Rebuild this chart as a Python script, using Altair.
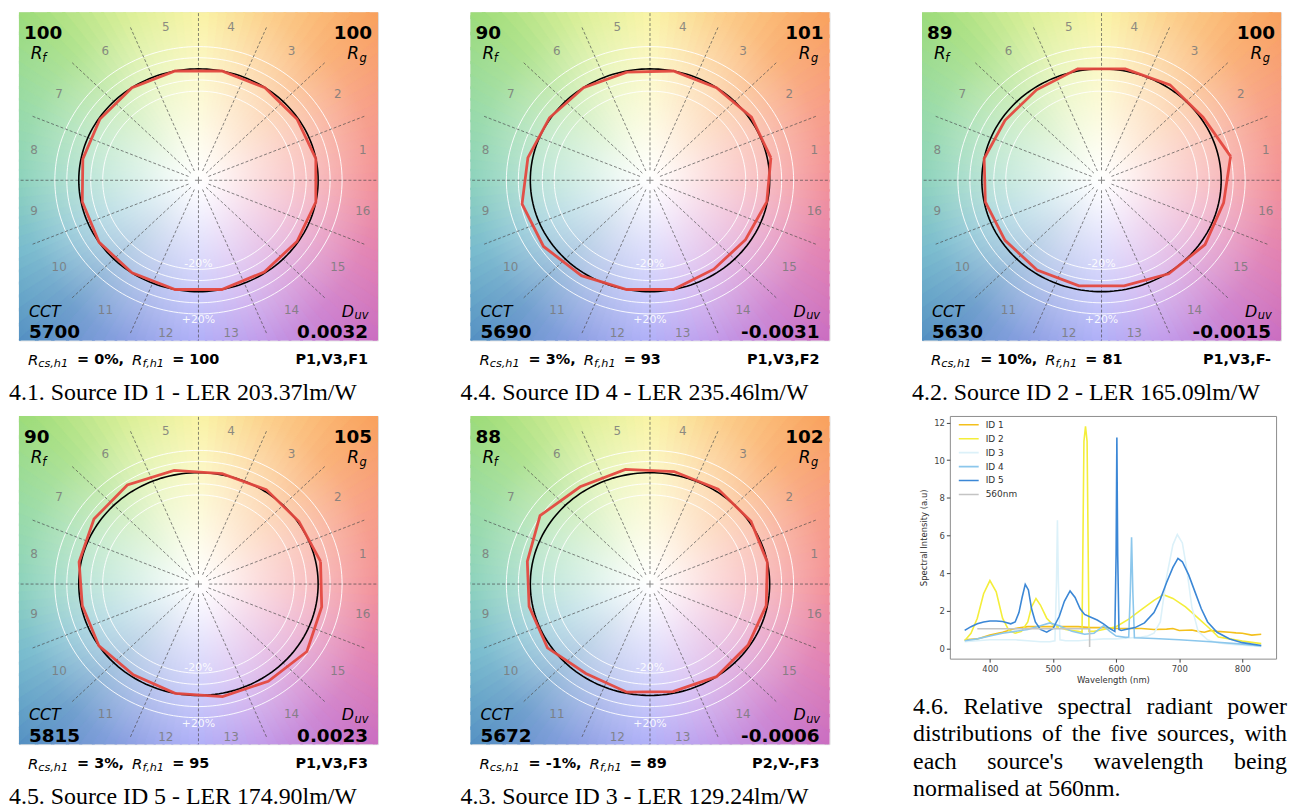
import altair as alt
import numpy as np
import pandas as pd

# ------------------------------------------------------------------ data
HUE_BINS = [str(i) for i in range(1, 17)]

PANEL_CODE = ["4.1", "4.4", "4.2", "4.5", "4.3"]
SOURCE_ID = [1, 4, 2, 5, 3]
LER = ["203.37", "235.46", "165.09", "174.90", "129.24"]
RF = [100, 90, 89, 90, 88]
RG = [100, 101, 100, 105, 102]
CCT = [5700, 5690, 5630, 5815, 5672]
DUV = ["0.0032", "-0.0031", "-0.0015", "0.0023", "-0.0006"]
RCS_H1 = ["0%", "3%", "10%", "3%", "-1%"]
RF_H1 = [100, 93, 81, 95, 89]
PVF = ["P1,V3,F1", "P1,V3,F2", "P1,V3,F-", "P1,V3,F3", "P2,V-,F3"]

# relative chroma of the test source in each hue bin (reference circle = 1)
RADII_ID1 = [1.00, 0.99, 1.00, 1.00, 1.00, 1.00, 0.99, 0.985, 0.99, 1.00, 1.00, 1.00, 1.00, 0.99, 0.99, 1.00]
RADII_ID4 = [1.03, 1.02, 1.00, 1.00, 0.99, 1.00, 1.01, 1.04, 1.09, 1.07, 1.03, 1.00, 1.00, 0.96, 0.96, 0.995]
RADII_ID2 = [1.10, 1.02, 1.03, 1.02, 1.02, 0.977, 0.97, 1.00, 0.99, 0.97, 0.97, 0.966, 0.967, 1.01, 1.04, 1.04]
RADII_ID5 = [1.04, 1.01, 1.02, 1.01, 1.04, 1.07, 1.05, 1.017, 0.99, 1.00, 0.98, 1.00, 1.03, 1.05, 1.09, 1.05]
RADII_ID3 = [1.00, 1.015, 1.025, 1.03, 1.05, 1.05, 1.105, 1.045, 1.03, 1.03, 0.965, 0.99, 0.985, 1.00, 0.986, 0.99]
RADII = [RADII_ID1, RADII_ID4, RADII_ID2, RADII_ID5, RADII_ID3]

RING_RADII = [0.8, 0.9, 1.1, 1.2]

# spectral power distributions (normalised at 560 nm)
WL_ID1 = [360, 380, 400, 420, 440, 460, 480, 500, 520, 540, 560, 580, 600, 620, 640, 660, 680, 690, 700,
          720, 730, 740, 750, 760, 780, 790, 800, 815, 830]
SPD_ID1 = [0.45, 0.5, 0.7, 0.85, 1.05, 1.15, 1.15, 1.15, 1.15, 1.15, 1.1, 1.1, 1.05, 1.05, 1.05, 1.0, 1.02,
           1.05, 0.95, 0.97, 0.9, 0.85, 0.95, 0.9, 0.85, 0.82, 0.8, 0.7, 0.75]
WL_ID2 = [360, 370, 380, 390, 400, 410, 420, 430, 440, 450, 460, 466, 473, 480, 490, 500, 510, 520, 530, 540,
          546, 549, 551.5, 554, 557, 565, 580, 600, 620, 640, 660, 675, 690, 710, 730, 750, 762, 780, 800, 830]
SPD_ID2 = [0.4, 0.8, 1.6, 2.9, 3.6, 3.0, 1.6, 0.95, 0.8, 0.9, 1.4, 2.2, 2.65, 2.3, 1.6, 1.25, 1.1, 1.0, 0.95,
           0.9, 0.85, 11.0, 11.8, 11.0, 0.9, 0.9, 1.0, 1.15, 1.55, 2.05, 2.55, 2.85, 2.65, 2.2, 1.6, 1.0, 0.6,
           0.5, 0.38, 0.25]
WL_ID3 = [360, 380, 400, 420, 440, 460, 480, 495, 503, 505.5, 507, 508.5, 511, 520, 540, 560, 580, 600, 620,
          640, 650, 660, 670, 680, 690, 697, 705, 712, 720, 730, 745, 760, 780, 800, 830]
SPD_ID3 = [0.35, 0.4, 0.45, 0.45, 0.45, 0.4, 0.35, 0.35, 0.4, 3.5, 6.8, 3.5, 0.45, 0.4, 0.4, 0.45, 0.5, 0.5,
           0.55, 0.6, 0.65, 0.8, 1.4, 3.8, 5.5, 6.05, 5.6, 4.2, 2.2, 0.9, 0.45, 0.3, 0.22, 0.16, 0.1]
WL_ID4 = [360, 380, 400, 420, 440, 460, 480, 495, 510, 530, 550, 565, 580, 590, 600, 615, 620, 622.5, 624.5,
          626.5, 629, 640, 660, 700, 750, 800, 830]
SPD_ID4 = [0.4, 0.5, 0.65, 0.8, 0.9, 1.0, 1.2, 1.35, 1.2, 0.9, 0.75, 0.8, 1.2, 0.9, 0.65, 0.58, 0.6, 3.0, 5.9,
           3.0, 0.56, 0.55, 0.52, 0.45, 0.35, 0.22, 0.12]
WL_ID5 = [360, 370, 380, 390, 400, 410, 420, 433, 440, 446, 451, 456, 461, 466, 472, 480, 490, 500, 510, 518,
          527, 535, 543, 550, 560, 570, 580, 590, 598, 600, 601.2, 602.5, 604.5, 608, 615, 630, 645, 660, 670,
          680, 690, 698, 705, 715, 725, 735, 745, 760, 780, 800, 830]
SPD_ID5 = [0.95, 1.15, 1.3, 1.4, 1.45, 1.45, 1.42, 1.3, 1.4, 1.9, 2.7, 3.4, 3.1, 2.1, 1.4, 1.0, 0.86, 1.05,
           1.7, 2.5, 3.05, 2.7, 2.1, 1.8, 1.65, 1.5, 1.3, 1.05, 0.9, 5.0, 11.2, 5.0, 1.0, 0.95, 1.0, 1.1, 1.35,
           1.9, 2.6, 3.5, 4.3, 4.78, 4.6, 3.9, 3.0, 2.1, 1.4, 0.85, 0.5, 0.3, 0.15]
WL_560 = [380, 558, 558]
SPD_560 = [1.04, 1.04, 0.07]

SERIES = ["ID 1", "ID 2", "ID 3", "ID 4", "ID 5", "560nm"]
SERIES_COLORS = ["#f3c01c", "#f4ee3a", "#dcf1f9", "#8cc7ec", "#3b87d6", "#c4c4c4"]
SERIES_WIDTH = [1.6, 1.6, 1.6, 1.6, 1.9, 1.0]

CAPTION_46 = [["4.6.", "Relative", "spectral", "radiant", "power"],
              ["distributions", "of", "the", "five", "sources,", "with"],
              ["each", "source's", "wavelength", "being"],
              ["normalised at 560nm."]]

# background hue wheel (style)
BG_DEG = [0, 22.5, 45, 67.5, 90, 112.5, 135, 157.5, 180, 202.5, 225, 247.5, 270, 292.5, 315, 337.5]
BG_HEX = ["#f07880", "#f58a70", "#f9a058", "#fbc470", "#f8f088", "#d4ec80", "#9cdc74", "#86d496",
          "#72c8ac", "#5eaec4", "#4c88c0", "#6e86dc", "#9090f6", "#b07ee4", "#c468c4", "#dc6aa4"]

# ------------------------------------------------------------------ helpers
W, H = 361, 330
XS = alt.Scale(domain=[-1.5, 1.5], nice=False, zero=False)
YS = alt.Scale(domain=[-1.4375, 1.509], nice=False, zero=False)
ONE = pd.DataFrame({"k": [0]})
SANS = "DejaVu Sans"
SERIF = "Liberation Serif"


def hex2rgb(h):
    h = h.lstrip("#")
    return [int(h[i:i + 2], 16) for i in (0, 2, 4)]


def interp_color(h):
    h = h % 360
    degs = BG_DEG + [360]
    cols = BG_HEX + [BG_HEX[0]]
    for j in range(len(degs) - 1):
        if degs[j] <= h <= degs[j + 1]:
            t = (h - degs[j]) / (degs[j + 1] - degs[j])
            c0, c1 = hex2rgb(cols[j]), hex2rgb(cols[j + 1])
            c = [int(round(a + (b - a) * t)) for a, b in zip(c0, c1)]
            return "#%02x%02x%02x" % tuple(c)
    return cols[0]


def wedge_frame():
    rows = []
    step = 3
    for i in range(0, 360, step):
        h1 = i + step
        t0 = ((90 - h1) % 360)
        rows.append(dict(cx=0, cy=0, t0=np.deg2rad(t0), t1=np.deg2rad(t0 + step + 0.5),
                         col=interp_color(i + step / 2)))
    return pd.DataFrame(rows)


def circle_frame(radii):
    rows = []
    for r in radii:
        for j, a in enumerate(range(0, 361, 2)):
            rows.append(dict(ring=r, o=j, x=r * np.cos(np.deg2rad(a)), y=r * np.sin(np.deg2rad(a))))
    return pd.DataFrame(rows)


def spoke_frame():
    rows = []
    for k in range(16):
        a = np.deg2rad(k * 22.5)
        r1 = 1.7 if k % 4 == 0 else 1.5
        for o, r in enumerate([0.09, r1]):
            rows.append(dict(s=k, o=o, x=r * np.cos(a), y=r * np.sin(a)))
    return pd.DataFrame(rows)


def polygon_frame(radii):
    rows = []
    for i in range(17):
        r = radii[i % 16]
        a = np.deg2rad(11.25 + 22.5 * (i % 16))
        rows.append(dict(o=i, x=r * np.cos(a), y=r * np.sin(a)))
    return pd.DataFrame(rows)


def bin_label_frame():
    rows = []
    for i, b in enumerate(HUE_BINS):
        a = np.deg2rad(11.25 + 22.5 * i)
        rows.append(dict(lab=b, x=1.4 * np.cos(a), y=1.4 * np.sin(a)))
    return pd.DataFrame(rows)


def txt(text, x, y, size, weight="normal", style="normal", align="left", color="black", font=SANS,
        opacity=1.0):
    return alt.Chart(ONE).mark_text(text=text, fontSize=size, fontWeight=weight, fontStyle=style,
                                    align=align, baseline="middle", font=font, color=color,
                                    opacity=opacity).encode(x=alt.value(x), y=alt.value(y))


BOLD_W = {"%": 1.002, ",": 0.380, " ": 0.348, "=": 0.838, "-": 0.415}
OBL_W = {"R": 0.695, "c": 0.550, "s": 0.521, ",": 0.318, "h": 0.634, "1": 0.636, "f": 0.352}
TIMES_W = {" ": .25, ".": .25, ",": .25, "'": .18, "a": .444, "b": .5, "c": .444, "d": .5, "e": .444,
           "f": .333, "g": .5, "h": .5, "i": .278, "l": .278, "m": .778, "n": .5, "o": .5, "p": .5,
           "r": .333, "s": .389, "t": .278, "u": .5, "v": .5, "w": .722, "R": .667}


def tw(s, table, size):
    return sum(table.get(ch, 0.5 if table is TIMES_W else 0.696) for ch in s) * size


WEDGES = wedge_frame()
RINGS = circle_frame(RING_RADII)
REFC = circle_frame([1.0])
SPOKES = spoke_frame()
BINLAB = bin_label_frame()
PCT = pd.DataFrame({"x": [0, 0], "y": [-0.756, -1.255], "lab": ["-20%", "+20%"]})

GLOW = {
    "gradient": "radial", "x1": 0.5, "y1": 0.512, "r1": 0, "x2": 0.5, "y2": 0.512, "r2": 0.75,
    "stops": [
        {"offset": 0.0, "color": "rgba(255,255,255,1)"},
        {"offset": 0.06, "color": "rgba(255,255,255,0.95)"},
        {"offset": 0.22, "color": "rgba(255,255,255,0.75)"},
        {"offset": 0.44, "color": "rgba(255,255,255,0.5)"},
        {"offset": 0.66, "color": "rgba(255,255,255,0.2)"},
        {"offset": 0.94, "color": "rgba(255,255,255,0.0)"},
        {"offset": 1.0, "color": "rgba(255,255,255,0.0)"},
    ],
}


def tm30_panel(i):
    X = lambda f: alt.X(f, scale=XS, axis=None)
    Y = lambda f: alt.Y(f, scale=YS, axis=None)
    layers = []
    layers.append(alt.Chart(WEDGES).mark_arc(radius=265, clip=True, strokeWidth=0.8).encode(
        x=X("cx:Q"), y=Y("cy:Q"), theta=alt.Theta("t0:Q", scale=None), theta2="t1:Q",
        fill=alt.Fill("col:N", scale=None), stroke=alt.Stroke("col:N", scale=None)))
    layers.append(alt.Chart(ONE).mark_rect(fill=GLOW).encode(
        x=alt.value(0), x2=alt.value(W), y=alt.value(0), y2=alt.value(H)))
    layers.append(alt.Chart(RINGS).mark_line(color="white", strokeWidth=1.0, opacity=0.9).encode(
        x=X("x:Q"), y=Y("y:Q"), detail="ring:N", order="o:Q"))
    layers.append(alt.Chart(SPOKES).mark_line(color="#4a4a4a", strokeWidth=0.9, opacity=0.75,
                                              strokeDash=[3, 2], clip=True).encode(
        x=X("x:Q"), y=Y("y:Q"), detail="s:N", order="o:Q"))
    layers.append(alt.Chart(REFC).mark_line(color="black", strokeWidth=1.6).encode(
        x=X("x:Q"), y=Y("y:Q"), order="o:Q"))
    layers.append(alt.Chart(polygon_frame(RADII[i])).mark_line(color="#e4483f", strokeWidth=2.8,
                                                               opacity=0.95).encode(
        x=X("x:Q"), y=Y("y:Q"), order="o:Q"))
    layers.append(alt.Chart(BINLAB).mark_text(fontSize=12, color="#7a7a7a", opacity=0.85, font=SANS).encode(
        x=X("x:Q"), y=Y("y:Q"), text="lab:N"))
    layers.append(alt.Chart(PCT).mark_text(fontSize=11, color="white", opacity=0.9, font=SANS).encode(
        x=X("x:Q"), y=Y("y:Q"), text="lab:N"))
    layers.append(alt.Chart(ONE).mark_point(shape="M-1,0L1,0M0,-1L0,1", size=50, filled=False,
                                            color="#555555", strokeWidth=1).encode(
        x=alt.X("k:Q", scale=XS, axis=None), y=alt.Y("k:Q", scale=YS, axis=None)))
    # corner annotations
    layers += [
        txt(str(RF[i]), 5, 21, 18.5, weight="bold"),
        txt("R", 12, 42, 17, style="italic"),
        txt("f", 23.5, 47, 11.5, style="italic"),
        txt(str(RG[i]), 355, 21, 18.5, weight="bold", align="right"),
        txt("R", 342, 42, 17, style="italic", align="right"),
        txt("g", 342.5, 47, 11.5, style="italic"),
        txt("CCT", 10, 301, 16, style="italic"),
        txt(str(CCT[i]), 10, 322, 18.5, weight="bold"),
        txt("D", 337, 301, 16, style="italic", align="right"),
        txt("uv", 337.5, 306, 11.5, style="italic"),
        txt(DUV[i], 351, 322, 18.5, weight="bold", align="right"),
    ]
    # line under the graphic
    yb, ys = 350, 354
    x = 9
    s1 = "= %s," % RCS_H1[i]
    s2 = "= %d" % RF_H1[i]
    layers.append(txt("R", x, yb, 15, style="italic"))
    layers.append(txt("cs,h1", x + 10.4, ys, 11.3, style="italic"))
    x2 = x + 10.4 + tw("cs,h1", OBL_W, 11.3) + 9
    layers.append(txt(s1, x2, yb, 14.5, weight="bold"))
    x3 = x2 + tw(s1, BOLD_W, 14.5) + 8
    layers.append(txt("R", x3, yb, 15, style="italic"))
    layers.append(txt("f,h1", x3 + 10.4, ys, 11.3, style="italic"))
    x4 = x3 + 10.4 + tw("f,h1", OBL_W, 11.3) + 8
    layers.append(txt(s2, x4, yb, 14.5, weight="bold"))
    layers.append(txt(PVF[i], 351, yb, 14.5, weight="bold", align="right"))
    # figure caption
    cap = "%s. Source ID %d - LER %slm/W" % (PANEL_CODE[i], SOURCE_ID[i], LER[i])
    layers.append(txt(cap, -10, 383, 24, font=SERIF))
    return alt.layer(*layers).properties(width=W, height=H)


# ------------------------------------------------------------------ spectral plot
rows = []
for name, wl, v in zip(SERIES, [WL_ID1, WL_ID2, WL_ID3, WL_ID4, WL_ID5, WL_560],
                       [SPD_ID1, SPD_ID2, SPD_ID3, SPD_ID4, SPD_ID5, SPD_560]):
    for j, (a, b) in enumerate(zip(wl, v)):
        rows.append(dict(series=name, wl=a, val=b, idx=j))
SPEC = pd.DataFrame(rows)

SW, SH = 328, 244
# legend position is relative to the top-level layout origin (top-left of the first panel)
SPEC_ORIGIN = (936, 405)
spec_lines = alt.Chart(SPEC).mark_line(clip=True).encode(
    x=alt.X("wl:Q", scale=alt.Scale(domain=[336.5, 853.5], nice=False, zero=False),
            axis=alt.Axis(values=[400, 500, 600, 700, 800], grid=False, domain=False, tickSize=3.5,
                          tickColor="#444", labelFontSize=8.5, labelColor="#444", labelFont=SANS,
                          labelPadding=2, title="Wavelength (nm)", titleFont=SANS, titleFontSize=8.5,
                          titleFontWeight="normal", titleColor="#333", titlePadding=3)),
    y=alt.Y("val:Q", scale=alt.Scale(domain=[-0.55, 12.35], nice=False, zero=False),
            axis=alt.Axis(values=[0, 2, 4, 6, 8, 10, 12], grid=False, domain=False, tickSize=3.5,
                          tickColor="#444", labelFontSize=8.5, labelColor="#444", labelFont=SANS,
                          labelPadding=2, title="Spectral Intensity (a.u)", titleFont=SANS,
                          titleFontSize=8.5, titleFontWeight="normal", titleColor="#333",
                          titlePadding=5)),
    color=alt.Color("series:N", scale=alt.Scale(domain=SERIES, range=SERIES_COLORS),
                    legend=alt.Legend(orient="none", legendX=SPEC_ORIGIN[0] + 8,
                                      legendY=SPEC_ORIGIN[1] + 3, title=None,
                                      symbolType="stroke", symbolSize=400, symbolStrokeWidth=1.6,
                                      labelFontSize=9, labelFont=SANS, labelColor="#333",
                                      labelOffset=6, rowPadding=0, clipHeight=13.8)),
    strokeWidth=alt.StrokeWidth("series:N", scale=alt.Scale(domain=SERIES, range=SERIES_WIDTH),
                                legend=None),
    order="idx:Q",
)

CAP_Y = [293, 320, 348, 375]
CAP_L, CAP_R = -37, 339
cap_layers = []
for li, words in enumerate(CAPTION_46):
    if len(words) == 1:
        cap_layers.append(txt(words[0], CAP_L, CAP_Y[li], 24, font=SERIF))
        continue
    widths = [tw(w, TIMES_W, 24) for w in words]
    gap = (CAP_R - CAP_L - sum(widths)) / (len(words) - 1)
    xpos = CAP_L
    for w, wd in zip(words, widths):
        cap_layers.append(txt(w, xpos, CAP_Y[li], 24, font=SERIF))
        xpos += wd + gap

spec = alt.layer(spec_lines, *cap_layers).properties(
    width=SW, height=SH, view=alt.ViewBackground(stroke="#8c8c8c", strokeWidth=1))

# ------------------------------------------------------------------ layout
P = [tm30_panel(i) for i in range(5)]
row1 = alt.hconcat(P[0], P[1], P[2], spacing=93, bounds="flush")
row2 = alt.hconcat(P[3], alt.hconcat(P[4], spec, spacing=121, bounds="flush"), spacing=93, bounds="flush")
chart = alt.vconcat(row1, row2, spacing=9).properties(
    padding={"left": 0, "top": 1, "right": 0, "bottom": 0}
).configure_view(stroke="#3c3c3c", strokeWidth=1.2).configure(font=SANS)

chart.save("out.html", embed_options={"renderer": "svg", "actions": False})
